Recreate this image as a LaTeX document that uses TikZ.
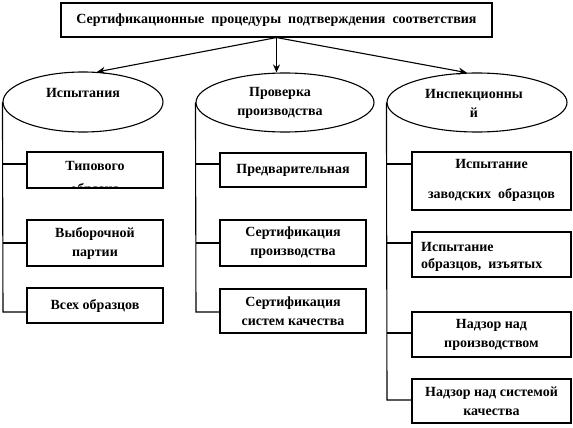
\documentclass[tikz,border=0pt]{standalone}
\usepackage{fontspec}
\setmainfont{Liberation Serif}
\usetikzlibrary{shapes.geometric,arrows.meta}
\begin{document}
\begin{tikzpicture}[x=1pt,y=-1pt,
  every node/.style={font=\bfseries\fontsize{14}{19}\selectfont},
  ln/.style={line width=1.1pt},
  box/.style={draw,line width=1.1pt,inner sep=0pt,align=center},
  oval/.style={draw,ellipse,line width=1.1pt,inner sep=0pt},
  arr/.style={line width=1.1pt,-{Stealth[length=8pt,width=7pt]}},
  lbl/.style={inner sep=0pt,align=center}]
\useasboundingbox (0,0) rectangle (573,428);

% top box
\node[box,minimum width=431pt,minimum height=34pt] (top) at (276.5,20)
  {Сертификационные\hspace{0.5em}процедуры\hspace{0.5em}подтверждения\hspace{0.5em}соответствия};

% ellipses
\node[oval,minimum width=160pt,minimum height=60pt] (e1) at (83,102) {};
\node[oval,minimum width=178pt,minimum height=59pt] (e2) at (285,102.5) {};
\node[oval,minimum width=180pt,minimum height=59pt] (e3) at (477,102.5) {};
\node[lbl] (t1) at (83,93) {Испытания};
\node[lbl] (t2) at (280,102.5) {Проверка\\производства};
\node[lbl] (t3) at (474,103) {Инспекционны\\й};

% arrows
\draw[arr] (top.south) -- (e1.65);
\draw[arr] (top.south) -- (top.south |- e2.north);
\draw[arr] (top.south) -- (e3.109);

% column 1 boxes
\begin{scope}
  \clip (27,152) rectangle (163,187.5);
  \node[lbl] (t11b) at (95,190) {образца};
\end{scope}
\node[box,minimum width=136pt,minimum height=36pt] (b11) at (95,170) {};
\node[lbl] (t11) at (95,166) {Типового};
\node[box,minimum width=136pt,minimum height=46pt] (b12) at (95,243) {Выборочной\\партии};
\node[box,minimum width=136pt,minimum height=35pt] (b13) at (95,305.5) {Всех образцов};

% column 2 boxes
\node[box,minimum width=146pt,minimum height=34pt] (b21) at (293,170) {Предварительная};
\node[box,minimum width=146pt,minimum height=46pt] (b22) at (293,243) {Сертификация\\производства};
\node[box,minimum width=146pt,minimum height=44pt] (b23) at (293,311) {Сертификация\\систем качества};

% column 3 boxes
\node[box,minimum width=159pt,minimum height=58pt] (b31) at (491.5,181) {};
\node[lbl] (t31) at (491.5,180) {Испытание\\[11pt]заводских\hspace{0.5em}образцов};
\node[box,minimum width=159pt,minimum height=45pt] (b32) at (491.5,254.5) {};
\node[lbl,anchor=west,align=left,font=\bfseries\fontsize{14}{17}\selectfont] (t32) at (421,256.5) {Испытание\\образцов,\hspace{0.5em}изъятых};
\node[box,minimum width=159pt,minimum height=45pt] (b33) at (491.5,334.5) {Надзор над\\производством};
\node[box,minimum width=159pt,minimum height=44pt] (b34) at (491.5,401) {Надзор над системой\\качества};

% branch coordinates
\coordinate (L1) at (3,164);
\coordinate (L2) at (3,243);
\coordinate (L3) at (3,312);
\coordinate (M1) at (196,164);
\coordinate (M2) at (196,243);
\coordinate (M3) at (196,312);
\coordinate (R1) at (387,164);
\coordinate (R2) at (387,243);
\coordinate (R3) at (387,333);
\coordinate (R4) at (387,400);

\draw[ln] (e1.west) -- (L3) -- (b13.west |- L3);
\draw[ln] (L1) -- (b11.west |- L1);
\draw[ln] (L2) -- (b12.west |- L2);

\draw[ln] (e2.west) -- (M3) -- (b23.west |- M3);
\draw[ln] (M1) -- (b21.west |- M1);
\draw[ln] (M2) -- (b22.west |- M2);

\draw[ln] (e3.west) -- (R4) -- (b34.west |- R4);
\draw[ln] (R1) -- (b31.west |- R1);
\draw[ln] (R2) -- (b32.west |- R2);
\draw[ln] (R3) -- (b33.west |- R3);
\end{tikzpicture}
\end{document}
